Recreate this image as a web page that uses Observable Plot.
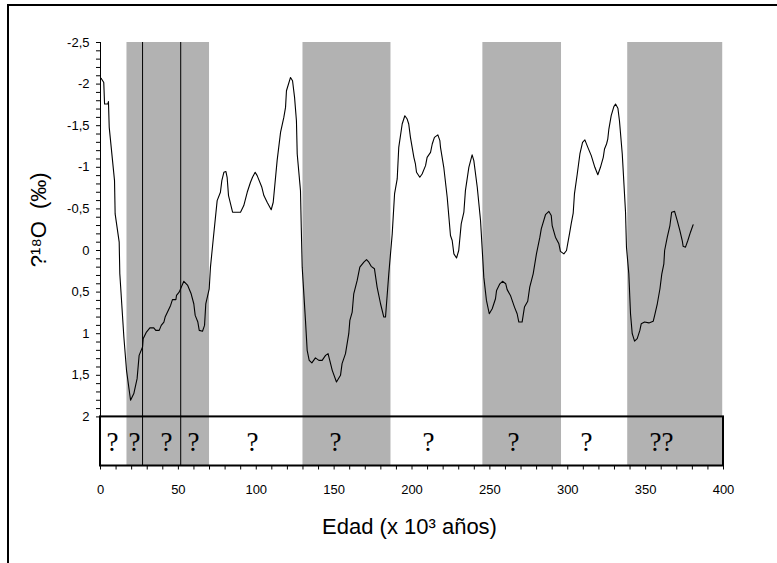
<!DOCTYPE html>
<html>
<head>
<meta charset="utf-8">
<script src="https://cdn.jsdelivr.net/npm/d3@7"></script>
<script src="https://cdn.jsdelivr.net/npm/@observablehq/plot@0.6"></script>
<style>
  html, body { margin: 0; padding: 0; background: #fff; }
  #wrap { position: relative; width: 777px; height: 563px; overflow: hidden; }
  #frame { position: absolute; left: 7px; top: 4px; width: 800px; height: 600px;
           border-top: 2px solid #000; border-left: 2px solid #000; pointer-events: none; }
</style>
</head>
<body>
<div id="wrap"><div id="frame"></div></div>
<script>
// ---- data ----
const age = [0.4,2.1,2.6,4.7,5.1,5.6,9,9.4,12,12.4,15,16.7,19.3,21.4,23.5,24.8,27,27.4,29.5,31.7,34.2,35.5,37.7,39,40.7,41.5,45,46.2,48.4,48.8,50.5,53.5,56,58.2,59.9,60.8,62.5,63.4,65.5,66.8,67.6,69.8,70.6,72.3,74.9,77,77.9,79.2,80.5,81.3,82.2,84.8,89.9,92,94.2,96.3,97.6,99.3,100.6,103.6,104.9,107,109.6,110.9,113.4,115.6,117.7,118.8,119.4,122,123.3,124.6,125.8,126.3,128.4,128.9,129.5,131.6,132.7,134,135.7,138,140.2,142.3,144.5,146.1,147.2,148.8,151.5,154.1,155.1,157.3,159.4,160.1,161.6,162.6,164.8,166.5,169.1,170.8,172.3,173.8,175.9,177.6,179.8,181.9,183,185.1,187.3,188.8,190.5,191.5,193.7,195.4,196.9,197.9,199,201.2,202.2,202.9,205,206.5,208.7,209.7,211.9,213,214.4,216.6,217.9,218.3,220.4,222.6,224.7,225.8,226.9,228.6,230,231.6,233.3,234.3,236.5,238.6,239.7,241.9,244,245.5,246.1,247.8,249.6,251.5,253.6,254.3,256.4,258.1,260.2,261.1,263.2,265.8,267.5,268.6,270.7,272.2,274.3,275.6,277.8,279.9,282.1,283,285.7,287.9,289.4,290,292.1,294.3,295.3,297.5,299.2,301.3,302.2,303.5,304.3,306.1,307.8,309.5,311,312.9,315.1,317.4,319.3,321,322.8,323.6,324.9,325.7,326.4,327.9,329.6,330.7,332.2,333.2,335,337.1,337.7,339.2,340.3,341.4,342.9,344.6,346.3,347.2,349.3,352.1,354.9,355.8,357.5,359.2,360.4,361.7,362.2,363.9,365.6,366.7,368.6,370.3,372,373.5,374.1,375.6,377.1,378.8,380.5];
const d18O = [-2.07,-2.02,-1.76,-1.76,-1.79,-1.48,-0.84,-0.44,-0.1,0.28,1.04,1.44,1.8,1.72,1.54,1.26,1.16,1.06,0.98,0.93,0.93,0.96,0.96,0.9,0.86,0.8,0.66,0.59,0.59,0.54,0.5,0.37,0.42,0.52,0.64,0.78,0.86,0.96,0.97,0.9,0.64,0.46,0.2,-0.12,-0.6,-0.7,-0.84,-0.94,-0.95,-0.88,-0.66,-0.46,-0.46,-0.54,-0.7,-0.82,-0.88,-0.94,-0.9,-0.76,-0.66,-0.58,-0.49,-0.58,-1.08,-1.42,-1.6,-1.72,-1.92,-2.08,-2.04,-1.84,-1.56,-1.16,-0.72,-0.28,0.2,0.84,1.2,1.32,1.35,1.29,1.32,1.32,1.26,1.24,1.32,1.44,1.58,1.5,1.36,1.24,1.0,0.84,0.74,0.52,0.36,0.2,0.14,0.11,0.14,0.19,0.22,0.44,0.64,0.8,0.8,0.28,-0.2,-0.68,-0.86,-1.24,-1.52,-1.62,-1.58,-1.52,-1.36,-1.12,-1.04,-0.94,-0.88,-0.92,-1.02,-1.12,-1.18,-1.28,-1.36,-1.39,-1.32,-1.24,-1.0,-0.64,-0.18,-0.12,0.04,0.09,0.0,-0.32,-0.46,-0.72,-1.0,-1.15,-1.08,-0.76,-0.36,0.12,0.32,0.6,0.76,0.7,0.58,0.48,0.4,0.37,0.4,0.47,0.54,0.68,0.76,0.86,0.86,0.68,0.61,0.44,0.28,0.04,-0.16,-0.26,-0.43,-0.47,-0.42,-0.3,-0.16,-0.08,0.01,0.04,0,-0.22,-0.32,-0.45,-0.68,-0.92,-1.16,-1.3,-1.33,-1.24,-1.14,-1.0,-0.91,-1.0,-1.12,-1.22,-1.28,-1.34,-1.46,-1.62,-1.73,-1.76,-1.71,-1.56,-1.16,-0.46,-0.04,0.28,0.76,1.0,1.09,1.06,0.96,0.88,0.86,0.87,0.85,0.78,0.64,0.46,0.28,0.16,0.0,-0.16,-0.3,-0.46,-0.47,-0.36,-0.24,-0.12,-0.05,-0.04,-0.12,-0.22,-0.31];

const bandStart = [17, 130, 245.5, 338.5];
const bandEnd   = [70, 186.5, 296, 399.5];
const markerAges = [27, 51.5];

const qAges   = [7.7, 21.8, 42.4, 59.7, 97.6, 150.9, 210.6, 265.2, 312, 360.2];
const qLabels = ["?", "?", "?", "?", "?", "?", "?", "?", "?", "??"];

const yMajorTicks = [-2.5, -2, -1.5, -1, -0.5, 0, 0.5, 1, 1.5, 2];
const yMinorTicks = d3.range(-25, 21).map(d => d / 10);
const xMajorTicks = [0, 50, 100, 150, 200, 250, 300, 350, 400];
const xMinorTicks = d3.range(0, 410, 10);

const xTitle = "Edad (x 10³ años)";
const yTitle = "?¹⁸O\u00a0\u00a0(‰)";

// ---- build ----
const series = age.map((a, i) => ({age: a, v: d18O[i]}));
const bands = bandStart.map((s, i) => ({x1: s, x2: bandEnd[i]}));
const qs = qAges.map((a, i) => ({age: a, t: qLabels[i]}));
const yTop = -2.5, yBot = 2.59, boxTop = 2;
const fmt = d => String(d).replace(".", ",");
const pxX = 623 / 400, pxY = 423.5 / (yBot - yTop);
const tick = 4;
const SANS = "Liberation Sans, Arial, sans-serif";
const SERIF = "Liberation Serif, Times New Roman, serif";

const chart = Plot.plot({
  width: 777,
  height: 563,
  marginLeft: 100,
  marginRight: 54,
  marginTop: 42,
  marginBottom: 97.5,
  style: {fontFamily: SANS, fontSize: "13px", background: "#fff", color: "#000", overflow: "visible"},
  x: {domain: [0, 400], axis: null},
  y: {domain: [yTop, yBot], reverse: true, axis: null},
  marks: [
    Plot.rect(bands, {x1: "x1", x2: "x2", y1: yTop, y2: yBot, fill: "#b2b2b2"}),
    Plot.ruleX(markerAges, {y1: yTop, y2: yBot, stroke: "#000", strokeWidth: 1}),
    Plot.line(series, {x: "age", y: "v", stroke: "#000", strokeWidth: 1.1}),
    Plot.rect([0], {x1: 0, x2: 400, y1: boxTop, y2: yBot, fill: "none", stroke: "#000", strokeWidth: 2}),
    Plot.ruleX([0], {y1: yTop, y2: yBot, stroke: "#000", strokeWidth: 1}),
    // y ticks and labels
    Plot.ruleY(yMinorTicks, {x1: -tick / pxX, x2: 0, stroke: "#000", strokeWidth: 1}),
    Plot.text(yMajorTicks, {x: 0, y: d => d, text: fmt, dx: -11, textAnchor: "end", fontSize: 13, fill: "#000", fontFamily: SANS}),
    // x ticks and labels
    Plot.ruleX(xMinorTicks, {y1: yBot, y2: yBot + tick / pxY, stroke: "#000", strokeWidth: 1}),
    Plot.text(xMajorTicks, {x: d => d, y: yBot, text: d => String(d), dy: 19, lineAnchor: "top", fontSize: 13, fill: "#000", fontFamily: SANS}),
    // question marks
    Plot.text(qs, {x: "age", y: 2.3, text: "t", fontSize: 27, fill: "#000", fontFamily: SERIF}),
    // titles
    Plot.text([xTitle], {x: 198.4, y: 3.32, fontSize: 22, fill: "#000", fontFamily: SANS}),
    Plot.text([yTitle], {x: -39.8, y: -0.37, rotate: -90, fontSize: 22, fill: "#000", fontFamily: SANS})
  ]
});
// make sure the serif face reaches the question-mark texts
d3.select(chart).selectAll("text")
  .filter(function() { return /^\?+$/.test(this.textContent); })
  .style("font-family", SERIF).style("font-weight", "normal");
document.getElementById("wrap").insertBefore(chart, document.getElementById("frame"));
</script>
</body>
</html>
